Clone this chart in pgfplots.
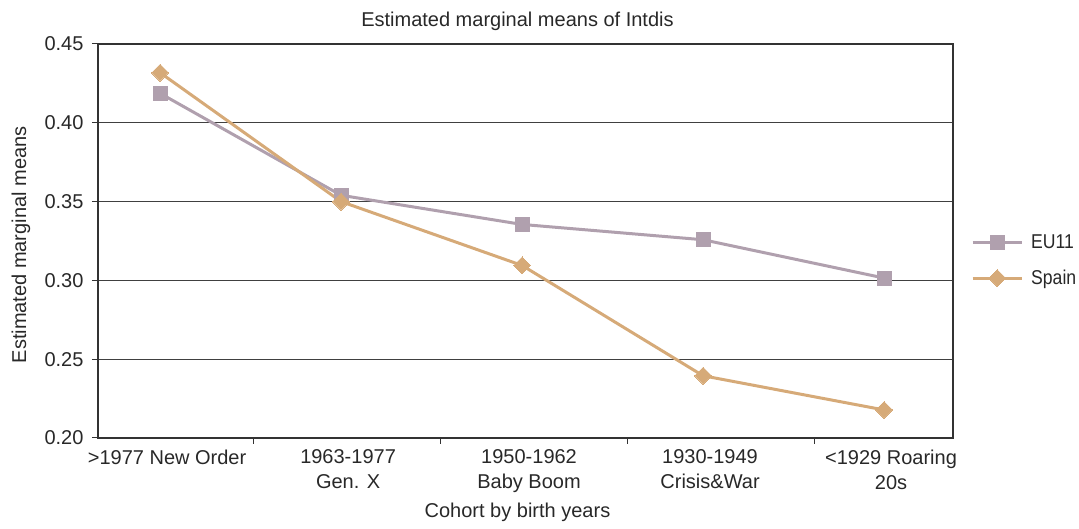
\documentclass[border=0pt]{standalone}
\usepackage{fontspec}
\setmainfont{Liberation Sans}
\newfontfamily\condf[FakeStretch=0.88]{Liberation Sans}
\usepackage{pgfplots}
\pgfplotsset{compat=1.18}
\definecolor{eu}{RGB}{176,160,174}
\definecolor{sp}{RGB}{214,170,120}
\definecolor{txt}{RGB}{40,40,40}
\newcommand{\bigf}{\fontsize{20}{25}\selectfont}
\begin{document}
\begin{tikzpicture}
\useasboundingbox (0,0) rectangle (1079pt,529pt);
\begin{axis}[
  at={(98pt,91pt)}, anchor=south west,
  scale only axis, width=855pt, height=394pt,
  xmin=-0.343, xmax=4.381, ymin=0.2, ymax=0.45,
  ytick={0.20,0.25,0.30,0.35,0.40,0.45},
  yticklabel style={/pgf/number format/fixed, /pgf/number format/fixed zerofill, /pgf/number format/precision=2, /pgf/number format/assume math mode=true,
    font=\bigf, color=txt, xshift=-5pt},
  xtick={0.514,1.547,2.58,3.613}, xticklabels={},
  extra x ticks={0,1,2,3,4},
  extra x tick labels={{>1977 New Order},{1963-1977\\Gen. X},{1950-1962\\Baby Boom},{1930-1949\\Crisis\&War},{<1929 Roaring\\20s}},
  extra x tick style={major tick length=0pt, grid=none, xticklabel style={align=center, font=\bigf, color=txt, anchor=north, xshift=7pt, yshift=-8pt}},
  tick align=outside, major tick length=6pt,
  xtick pos=bottom, ytick pos=left,
  tick style={black!80, line width=1pt},
  ymajorgrids, grid style={black!75, line width=1pt},
  axis line style={black!80, line width=1.6pt},
  title={Estimated marginal means of Intdis},
  title style={at={(axis description cs:0.4906,1)}, anchor=base, yshift=11pt, font=\bigf, color=txt},
  xlabel={Cohort by birth years},
  xlabel style={at={(axis description cs:0.4906,0)}, anchor=base, yshift=-80pt, font=\bigf, color=txt},
  ylabel={Estimated marginal means},
  ylabel style={at={(axis description cs:-0.0842,0.49)}, anchor=base, font=\bigf, color=txt},
  legend style={at={(axis description cs:1,0.4505)}, anchor=west, draw=none, fill=none, font=\condf\bigf, text=txt, xshift=18pt,
    row sep=16pt, inner sep=0pt, nodes={inner sep=2pt}, /tikz/every odd column/.style={column sep=6pt}},
  legend cell align=left,
  legend image code/.code={
    \draw[#1, mark=none] (0pt,0pt) -- (49pt,0pt);
    \draw[#1, only marks] plot coordinates {(24.5pt,0pt)};
  },
]
\addplot[color=eu, line width=3pt, mark=square*, mark size=7pt, mark options={solid, line width=0pt}]
  coordinates {(0,0.4187) (1,0.3540) (2,0.3355) (3,0.3258) (4,0.3015)};
\addlegendentry{EU11}
\addplot[color=sp, line width=3pt, mark=square*, mark size=6pt, mark options={solid, rotate=45, line width=0pt}]
  coordinates {(0,0.4318) (1,0.3500) (2,0.3095) (3,0.2395) (4,0.2178)};
\addlegendentry{Spain}
\end{axis}
\end{tikzpicture}
\end{document}
